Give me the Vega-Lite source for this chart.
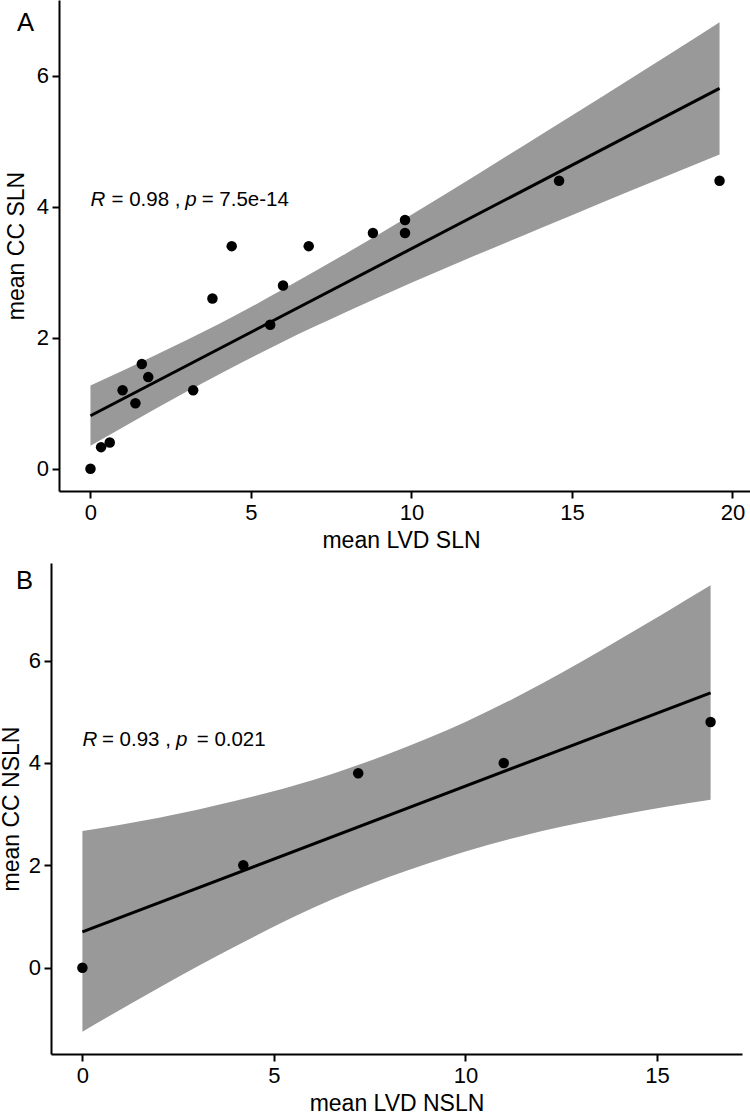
{
  "$schema": "https://vega.github.io/schema/vega-lite/v6.json",
  "padding": 0,
  "autosize": {"type": "pad"},
  "background": "white",
  "spacing": 11,
  "config": {
    "view": {"stroke": null},
    "font": "Liberation Sans",
    "axis": {
      "grid": false,
      "domainColor": "black", "domainWidth": 2,
      "tickColor": "black", "tickWidth": 2, "tickSize": 7,
      "labelColor": "black", "labelFont": "Liberation Sans", "labelFontSize": 22,
      "titleColor": "black", "titleFont": "Liberation Sans", "titleFontSize": 23, "titleFontWeight": "normal",
      "labelFlush": false, "labelOverlap": false, "format": "d"
    },
    "axisX": {"labelPadding": 4.7, "titlePadding": 5.3},
    "axisY": {"labelPadding": 3.5}
  },
  "datasets": {
    "ptsA": [
      {"lvd": 0, "cc": 0}, {"lvd": 0.33, "cc": 0.33}, {"lvd": 0.6, "cc": 0.4}, {"lvd": 1.0, "cc": 1.2},
      {"lvd": 1.4, "cc": 1.0}, {"lvd": 1.6, "cc": 1.6}, {"lvd": 1.8, "cc": 1.4}, {"lvd": 3.2, "cc": 1.2},
      {"lvd": 3.8, "cc": 2.6}, {"lvd": 4.4, "cc": 3.4}, {"lvd": 5.6, "cc": 2.2}, {"lvd": 6.0, "cc": 2.8},
      {"lvd": 6.8, "cc": 3.4}, {"lvd": 8.8, "cc": 3.6}, {"lvd": 9.8, "cc": 3.6}, {"lvd": 9.8, "cc": 3.8},
      {"lvd": 14.6, "cc": 4.4}, {"lvd": 19.6, "cc": 4.4}
    ],
    "lineA": [{"lvd": 0, "cc": 0.81}, {"lvd": 19.6, "cc": 5.81}],
    "bandA": [
      {"lvd": 0, "lo": 0.35, "hi": 1.27}, {"lvd": 2, "lo": 0.91, "hi": 1.73}, {"lvd": 4, "lo": 1.44, "hi": 2.21},
      {"lvd": 6, "lo": 1.94, "hi": 2.74}, {"lvd": 8, "lo": 2.40, "hi": 3.30}, {"lvd": 10, "lo": 2.84, "hi": 3.88},
      {"lvd": 12, "lo": 3.26, "hi": 4.48}, {"lvd": 14, "lo": 3.67, "hi": 5.09}, {"lvd": 16, "lo": 4.08, "hi": 5.70},
      {"lvd": 18, "lo": 4.48, "hi": 6.32}, {"lvd": 19.6, "lo": 4.80, "hi": 6.82}
    ],
    "annA": [{"lvd": 0, "cc": 4.02, "t1": "R", "t2": "= 0.98 ,", "t3": "p", "t4": "= 7.5e-14"}],
    "ptsB": [
      {"lvd": 0, "cc": 0}, {"lvd": 4.2, "cc": 2.0}, {"lvd": 7.2, "cc": 3.8}, {"lvd": 11.0, "cc": 4.0}, {"lvd": 16.4, "cc": 4.8}
    ],
    "lineB": [{"lvd": 0, "cc": 0.70}, {"lvd": 16.4, "cc": 5.37}],
    "bandB": [
      {"lvd": 0, "lo": -1.25, "hi": 2.67}, {"lvd": 2, "lo": -0.39, "hi": 2.93}, {"lvd": 4, "lo": 0.42, "hi": 3.26},
      {"lvd": 6, "lo": 1.16, "hi": 3.66}, {"lvd": 8, "lo": 1.77, "hi": 4.18}, {"lvd": 10, "lo": 2.27, "hi": 4.80},
      {"lvd": 12, "lo": 2.67, "hi": 5.55}, {"lvd": 14, "lo": 2.98, "hi": 6.40}, {"lvd": 16.4, "lo": 3.28, "hi": 7.47}
    ],
    "annB": [{"lvd": 0, "cc": 4.33, "t1": "R", "t2": "= 0.93 ,", "t3": "p", "t4": "= 0.021"}]
  },
  "vconcat": [
    {
      "width": 700,
      "height": 491,
      "title": {"text": "A", "anchor": "start", "frame": "group", "baseline": "top", "offset": 0, "dx": -34, "dy": 36.4, "fontSize": 25.6, "fontWeight": "normal", "font": "Liberation Sans", "color": "black"},
      "layer": [
        {
          "data": {"name": "bandA"},
          "mark": {"type": "area", "color": "#999999", "opacity": 1, "interpolate": "monotone"},
          "encoding": {
            "x": {"field": "lvd", "type": "quantitative", "title": "mean LVD SLN",
                  "scale": {"domain": [-1.23, 20.58], "nice": false, "zero": false},
                  "axis": {"values": [0, 5, 10, 15, 20], "domainDash": [0, 8, 692]}},
            "y": {"field": "lo", "type": "quantitative", "title": "mean CC SLN",
                  "scale": {"domain": [-0.34, 7.16], "nice": false, "zero": false},
                  "axis": {"values": [0, 2, 4, 6], "offset": -8, "titlePadding": 7.3}},
            "y2": {"field": "hi"}
          }
        },
        {
          "data": {"name": "lineA"},
          "mark": {"type": "line", "color": "black", "strokeWidth": 3},
          "encoding": {
            "x": {"field": "lvd", "type": "quantitative"},
            "y": {"field": "cc", "type": "quantitative"}
          }
        },
        {
          "data": {"name": "ptsA"},
          "mark": {"type": "circle", "color": "black", "opacity": 1, "size": 110},
          "encoding": {
            "x": {"field": "lvd", "type": "quantitative"},
            "y": {"field": "cc", "type": "quantitative"}
          }
        },
        {
          "data": {"name": "annA"},
          "mark": {"type": "text", "align": "left", "baseline": "alphabetic", "fontSize": 20.5, "fontStyle": "italic", "color": "black", "dx": 0},
          "encoding": {"x": {"field": "lvd", "type": "quantitative"}, "y": {"field": "cc", "type": "quantitative"}, "text": {"field": "t1", "type": "nominal"}}
        },
        {
          "data": {"name": "annA"},
          "mark": {"type": "text", "align": "left", "baseline": "alphabetic", "fontSize": 20.5, "color": "black", "dx": 21},
          "encoding": {"x": {"field": "lvd", "type": "quantitative"}, "y": {"field": "cc", "type": "quantitative"}, "text": {"field": "t2", "type": "nominal"}}
        },
        {
          "data": {"name": "annA"},
          "mark": {"type": "text", "align": "left", "baseline": "alphabetic", "fontSize": 20.5, "fontStyle": "italic", "color": "black", "dx": 94.8},
          "encoding": {"x": {"field": "lvd", "type": "quantitative"}, "y": {"field": "cc", "type": "quantitative"}, "text": {"field": "t3", "type": "nominal"}}
        },
        {
          "data": {"name": "annA"},
          "mark": {"type": "text", "align": "left", "baseline": "alphabetic", "fontSize": 20.5, "color": "black", "dx": 111.2},
          "encoding": {"x": {"field": "lvd", "type": "quantitative"}, "y": {"field": "cc", "type": "quantitative"}, "text": {"field": "t4", "type": "nominal"}}
        }
      ]
    },
    {
      "width": 691,
      "height": 491,
      "title": {"text": "B", "anchor": "start", "frame": "group", "baseline": "top", "offset": 0, "dx": -35, "dy": 31.4, "fontSize": 25.6, "fontWeight": "normal", "font": "Liberation Sans", "color": "black"},
      "layer": [
        {
          "data": {"name": "bandB"},
          "mark": {"type": "area", "color": "#999999", "opacity": 1, "interpolate": "monotone"},
          "encoding": {
            "x": {"field": "lvd", "type": "quantitative", "title": "mean LVD NSLN",
                  "scale": {"domain": [-0.82, 17.22], "nice": false, "zero": false},
                  "axis": {"values": [0, 5, 10, 15]}},
            "y": {"field": "lo", "type": "quantitative", "title": "mean CC NSLN",
                  "scale": {"domain": [-1.686, 7.906], "nice": false, "zero": false},
                  "axis": {"values": [0, 2, 4, 6], "titlePadding": 4.5}},
            "y2": {"field": "hi"}
          }
        },
        {
          "data": {"name": "lineB"},
          "mark": {"type": "line", "color": "black", "strokeWidth": 3},
          "encoding": {
            "x": {"field": "lvd", "type": "quantitative"},
            "y": {"field": "cc", "type": "quantitative"}
          }
        },
        {
          "data": {"name": "ptsB"},
          "mark": {"type": "circle", "color": "black", "opacity": 1, "size": 110},
          "encoding": {
            "x": {"field": "lvd", "type": "quantitative"},
            "y": {"field": "cc", "type": "quantitative"}
          }
        },
        {
          "data": {"name": "annB"},
          "mark": {"type": "text", "align": "left", "baseline": "alphabetic", "fontSize": 20.5, "fontStyle": "italic", "color": "black", "dx": 0},
          "encoding": {"x": {"field": "lvd", "type": "quantitative"}, "y": {"field": "cc", "type": "quantitative"}, "text": {"field": "t1", "type": "nominal"}}
        },
        {
          "data": {"name": "annB"},
          "mark": {"type": "text", "align": "left", "baseline": "alphabetic", "fontSize": 20.5, "color": "black", "dx": 19.5},
          "encoding": {"x": {"field": "lvd", "type": "quantitative"}, "y": {"field": "cc", "type": "quantitative"}, "text": {"field": "t2", "type": "nominal"}}
        },
        {
          "data": {"name": "annB"},
          "mark": {"type": "text", "align": "left", "baseline": "alphabetic", "fontSize": 20.5, "fontStyle": "italic", "color": "black", "dx": 93.6},
          "encoding": {"x": {"field": "lvd", "type": "quantitative"}, "y": {"field": "cc", "type": "quantitative"}, "text": {"field": "t3", "type": "nominal"}}
        },
        {
          "data": {"name": "annB"},
          "mark": {"type": "text", "align": "left", "baseline": "alphabetic", "fontSize": 20.5, "color": "black", "dx": 114.3},
          "encoding": {"x": {"field": "lvd", "type": "quantitative"}, "y": {"field": "cc", "type": "quantitative"}, "text": {"field": "t4", "type": "nominal"}}
        }
      ]
    }
  ]
}
